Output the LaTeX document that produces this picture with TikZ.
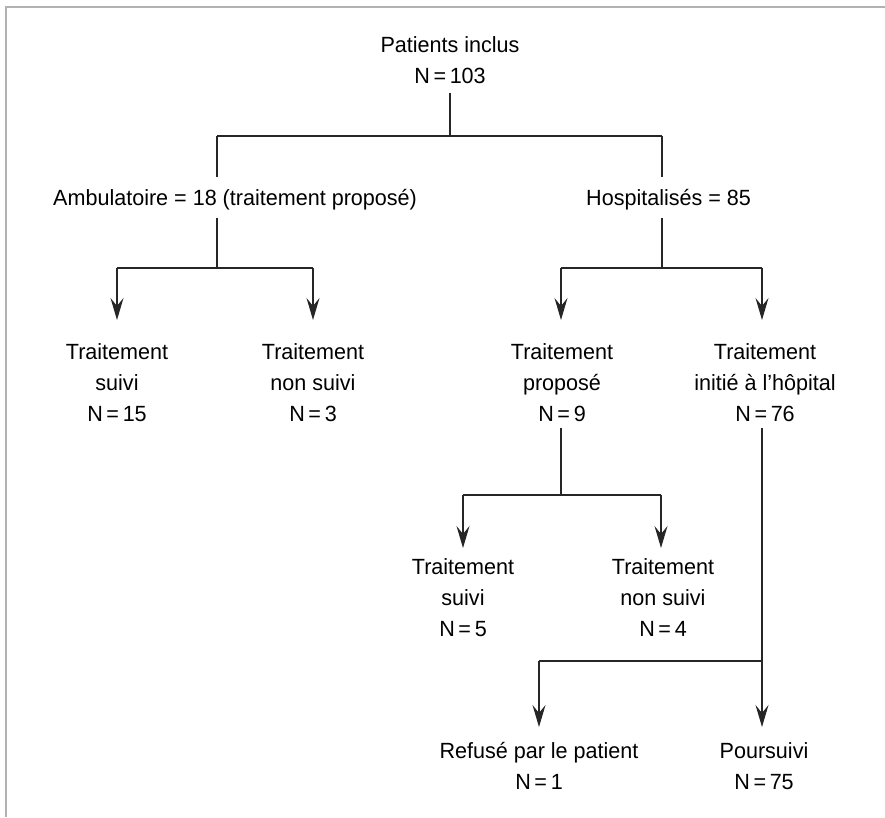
\documentclass[tikz,border=0pt]{standalone}
\usepackage{fontspec}
\setmainfont[FakeStretch=0.98]{Liberation Sans}
\usetikzlibrary{arrows.meta}
\begin{document}
\begin{tikzpicture}[x=1pt,y=-1pt,
  lbl/.style={font=\fontsize{22}{31}\selectfont, align=center, inner sep=0pt, anchor=north},
  conn/.style={line width=1.4pt, draw=black!85},
  arr/.style={conn, -{Stealth[length=22pt,width=13pt,inset=8pt]}},
  frameline/.style={line width=1.2pt, draw=black!30}]
\useasboundingbox (0,0) rectangle (885,817);
% frame (top and left edges)
\coordinate (f1) at (6,7);
\coordinate (f2) at (885,7);
\coordinate (f3) at (6,817);
\draw[frameline] (f3) -- (f1) -- (f2);

% nodes
\node[lbl] (root) at (450,36) {Patients inclus\\N\,=\,103};
\node[lbl, anchor=north west] (amb) at (53,189) {Ambulatoire = 18 (traitement proposé)};
\node[lbl, anchor=north west] (hosp) at (586,189) {Hospitalisés = 85};
\node[lbl] (c1) at (117,343) {Traitement\\suivi\\N\,=\,15};
\node[lbl] (c2) at (313,343) {Traitement\\non suivi\\N\,=\,3};
\node[lbl] (c3) at (562,343) {Traitement\\proposé\\N\,=\,9};
\node[lbl] (c4) at (765,343) {Traitement\\initié à l’hôpital\\N\,=\,76};
\node[lbl] (d1) at (463,558) {Traitement\\suivi\\N\,=\,5};
\node[lbl] (d2) at (663,558) {Traitement\\non suivi\\N\,=\,4};
\node[lbl] (e1) at (539,742) {Refusé par le patient\\N\,=\,1};
\node[lbl] (e2) at (764,742) {Poursuivi\\N\,=\,75};

% junction coordinates
\coordinate (r1) at (450,136);
\coordinate (jA) at (217,136);
\coordinate (jH) at (662,136);
\coordinate (aTop) at (217,177);
\coordinate (hTop) at (662,177);
\coordinate (aBot) at (217,218);
\coordinate (hBot) at (662,218);
\coordinate (aJ) at (217,268);
\coordinate (hJ) at (662,268);
\coordinate (c1j) at (117,268);
\coordinate (c2j) at (313,268);
\coordinate (c3j) at (561,268);
\coordinate (c4j) at (762,268);
\coordinate (pJ) at (561,495);
\coordinate (d1j) at (463,495);
\coordinate (d2j) at (661,495);
\coordinate (iJ) at (762,661);
\coordinate (e1j) at (539,661);

% root split
\draw[conn] (r1 |- root.south) ++(0,9) -- (r1);
\draw[conn] (jA) -- (jH);
\draw[conn] (jA) -- (aTop);
\draw[conn] (jH) -- (hTop);

% ambulatoire branch
\draw[conn] (aBot) -- (aJ);
\draw[conn] (c1j) -- (c2j);
\draw[arr, shorten >=23pt] (c1j) -- (c1j |- c1.north);
\draw[arr, shorten >=23pt] (c2j) -- (c2j |- c2.north);

% hospitalises branch
\draw[conn] (hBot) -- (hJ);
\draw[conn] (c3j) -- (c4j);
\draw[arr, shorten >=23pt] (c3j) -- (c3j |- c3.north);
\draw[arr, shorten >=23pt] (c4j) -- (c4j |- c4.north);

% propose branch
\draw[conn] (pJ |- c3.south) ++(0,6) -- (pJ);
\draw[conn] (d1j) -- (d2j);
\draw[arr, shorten >=10pt] (d1j) -- (d1j |- d1.north);
\draw[arr, shorten >=10pt] (d2j) -- (d2j |- d2.north);

% initie branch
\draw[conn] (iJ |- c4.south) ++(0,6) -- (iJ);
\draw[conn] (iJ) -- (e1j);
\draw[arr, shorten >=15pt] (e1j) -- (e1j |- e1.north);
\draw[arr, shorten >=15pt] (iJ) -- (iJ |- e2.north);
\end{tikzpicture}
\end{document}
